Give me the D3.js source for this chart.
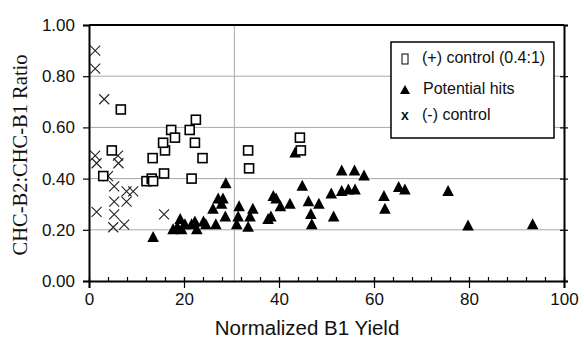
<!DOCTYPE html>
<html>
<head>
<meta charset="utf-8">
<script src="https://cdn.jsdelivr.net/npm/d3@7"></script>
<style>
  html, body { margin: 0; padding: 0; background: #fff; }
  svg { display: block; }
  text { font-family: "Liberation Sans", Arial, sans-serif; fill: #111; }
</style>
</head>
<body>
<svg></svg>
<script>
// chart values
const positiveControl = [
    [6.7, 0.67], [4.8, 0.51], [3.0, 0.41], [12.1, 0.39], [13.2, 0.40], [13.5, 0.39],
    [13.4, 0.48], [15.8, 0.42], [16.0, 0.51], [15.6, 0.54], [17.3, 0.59], [18.1, 0.56],
    [21.2, 0.59], [22.5, 0.63], [22.3, 0.54], [23.9, 0.48], [21.6, 0.40],
    [33.5, 0.51], [33.7, 0.44], [44.4, 0.56], [44.6, 0.51]
]
const potentialHits = [
    [13.5, 0.17],
    [17.7, 0.20], [18.6, 0.21], [19.2, 0.24], [19.5, 0.20], [20.2, 0.22], [21.6, 0.22],
    [22.3, 0.23], [22.7, 0.20], [24.1, 0.23], [24.6, 0.22],
    [26.7, 0.22], [26.1, 0.28], [27.2, 0.32], [28.2, 0.32], [27.9, 0.30], [28.8, 0.38], [28.7, 0.25],
    [31.6, 0.29], [31.4, 0.25], [31.1, 0.22], [33.5, 0.21], [34.5, 0.28], [33.9, 0.25],
    [37.7, 0.24], [38.3, 0.25], [38.8, 0.33], [39.4, 0.32], [40.3, 0.29], [42.3, 0.30],
    [43.4, 0.50], [44.9, 0.37], [46.2, 0.31], [46.7, 0.26], [46.9, 0.22], [48.4, 0.30],
    [51.0, 0.34], [51.5, 0.25], [53.2, 0.43], [53.2, 0.35], [54.6, 0.355], [56.0, 0.355],
    [55.9, 0.43], [57.9, 0.41],
    [62.1, 0.33], [62.3, 0.28], [65.2, 0.365], [66.5, 0.355], [75.6, 0.35], [79.8, 0.215], [93.4, 0.22]
]
const negativeControl = [
    [1.3, 0.90], [1.3, 0.83], [3.2, 0.71], [1.3, 0.49], [6.1, 0.49],
    [1.6, 0.46], [6.2, 0.46], [4.0, 0.41], [5.3, 0.37], [7.9, 0.35], [9.3, 0.35],
    [5.3, 0.31], [7.9, 0.31], [1.6, 0.27], [5.3, 0.26], [7.4, 0.22], [5.1, 0.21], [15.8, 0.26]
]
const xTicks = [0, 20, 40, 60, 80, 100]
const xMinorTicks = d3.range(0, 101, 4)
const yTicks = [0, 0.2, 0.4, 0.6, 0.8, 1.0]
const cutoffX = 30.6
const legendLabels = ['(+) control (0.4:1)', 'Potential hits', '(-) control']
const xTitle = 'Normalized B1 Yield'
const yTitle = 'CHC-B2:CHC-B1 Ratio'

const width = 584
const height = 347
const margin = {top: 25, right: 20, bottom: 66, left: 89}
const svg = d3.select('svg').attr('width', width).attr('height', height)

const xScale = d3.scaleLinear().domain([0, 100]).range([margin.left, width - margin.right])
const yScale = d3.scaleLinear().domain([0, 1]).range([height - margin.bottom, margin.top])

const drawGrid = ()=>{
    svg.append('g')
        .selectAll('line')
        .data(yTicks.filter(d => d > 0 && d < 1))
        .enter()
        .append('line')
        .attr('x1', xScale(0)).attr('x2', xScale(100))
        .attr('y1', d => yScale(d)).attr('y2', d => yScale(d))
        .attr('stroke', '#a8a8a8').attr('stroke-width', 1)
    svg.append('line')
        .attr('x1', xScale(cutoffX)).attr('x2', xScale(cutoffX))
        .attr('y1', yScale(1)).attr('y2', yScale(0))
        .attr('stroke', '#a8a8a8').attr('stroke-width', 1)
}

const drawAxes = ()=>{
    const xAxis = d3.axisBottom(xScale).tickValues(xTicks).tickSize(7).tickPadding(5)
    const xMinor = d3.axisTop(xScale).tickValues(xMinorTicks).tickSize(4).tickFormat('')
    const yAxis = d3.axisLeft(yScale).tickValues(yTicks).tickSize(6).tickPadding(8)
                    .tickFormat(d3.format('.2f'))
    const yRight = d3.axisRight(yScale).tickValues(yTicks).tickSize(4).tickFormat('')

    const gx = svg.append('g')
        .attr('id', 'x-axis')
        .attr('transform', 'translate(0, ' + (height - margin.bottom) + ')')
        .call(xAxis)
    gx.selectAll('.tick line').attr('y1', -4)
    svg.append('g')
        .attr('transform', 'translate(0, ' + (height - margin.bottom) + ')')
        .call(xMinor)
        .select('.domain').remove()
    svg.append('g')
        .attr('id', 'y-axis')
        .attr('transform', 'translate(' + margin.left + ', 0)')
        .call(yAxis)
    const gr = svg.append('g')
        .attr('transform', 'translate(' + (width - margin.right) + ', 0)')
        .call(yRight)
    gr.selectAll('.tick line').attr('x1', -4)

    svg.selectAll('.domain').attr('stroke', '#000').attr('stroke-width', 2)
    svg.selectAll('.tick line').attr('stroke', '#000').attr('stroke-width', 1.2)
    svg.selectAll('.tick text')
        .style('font-family', '"Liberation Sans", Arial, sans-serif')
        .style('font-size', '17px')
        .attr('fill', '#111')

    // frame top
    svg.append('line')
        .attr('x1', xScale(0)).attr('x2', xScale(100))
        .attr('y1', yScale(1)).attr('y2', yScale(1))
        .attr('stroke', '#000').attr('stroke-width', 2)

    svg.append('text')
        .attr('x', 307)
        .attr('y', 330)
        .attr('text-anchor', 'middle')
        .attr('dominant-baseline', 'middle')
        .style('font-size', '20.5px')
        .text(xTitle)
    svg.append('text')
        .attr('transform', 'translate(22, 155) rotate(-90)')
        .attr('text-anchor', 'middle')
        .attr('dominant-baseline', 'middle')
        .style('font-family', '"Liberation Serif", "Times New Roman", serif')
        .style('font-size', '20.5px')
        .text(yTitle)
}

const crossPath = 'M-5,-5L5,5M-5,5L5,-5'
const trianglePath = 'M0,-6.5L5.8,4.5L-5.8,4.5Z'

const drawPoints = ()=>{
    svg.append('g')
        .selectAll('path')
        .data(potentialHits)
        .enter()
        .append('path')
        .attr('d', trianglePath)
        .attr('transform', d => 'translate(' + xScale(d[0]) + ',' + yScale(d[1]) + ')')
        .attr('fill', '#000')
    svg.append('g')
        .selectAll('path')
        .data(negativeControl)
        .enter()
        .append('path')
        .attr('d', crossPath)
        .attr('transform', d => 'translate(' + xScale(d[0]) + ',' + yScale(d[1]) + ')')
        .attr('fill', 'none')
        .attr('stroke', '#222')
        .attr('stroke-width', 1.1)
    svg.append('g')
        .selectAll('rect')
        .data(positiveControl)
        .enter()
        .append('rect')
        .attr('x', d => xScale(d[0]) - 4.5)
        .attr('y', d => yScale(d[1]) - 4.5)
        .attr('width', 9)
        .attr('height', 9)
        .attr('fill', '#fff')
        .attr('stroke', '#000')
        .attr('stroke-width', 1.6)
}

const drawLegend = ()=>{
    const lg = svg.append('g').attr('transform', 'translate(391, 42)')
    lg.append('rect')
        .attr('width', 163).attr('height', 96)
        .attr('fill', '#fff').attr('stroke', '#000').attr('stroke-width', 1.5)
    const rows = [17, 48, 74]
    lg.append('rect')
        .attr('x', 11).attr('y', rows[0] - 5).attr('width', 6).attr('height', 10)
        .attr('fill', 'none').attr('stroke', '#000').attr('stroke-width', 1)
    lg.append('path')
        .attr('d', 'M0,-5L5,4L-5,4Z')
        .attr('transform', 'translate(14,' + rows[1] + ')')
        .attr('fill', '#000')
    lg.append('text')
        .attr('x', 14).attr('y', rows[2])
        .attr('text-anchor', 'middle')
        .attr('dominant-baseline', 'middle')
        .style('font-size', '14px')
        .style('font-weight', 'bold')
        .text('x')
    lg.selectAll('text.label')
        .data(legendLabels)
        .enter()
        .append('text')
        .attr('class', 'label')
        .attr('x', (d, i) => i === 1 ? 32 : 31)
        .attr('y', (d, i) => rows[i])
        .attr('dominant-baseline', 'middle')
        .style('font-size', '16px')
        .text(d => d)
}

drawGrid()
drawPoints()
drawAxes()
drawLegend()
</script>
</body>
</html>
